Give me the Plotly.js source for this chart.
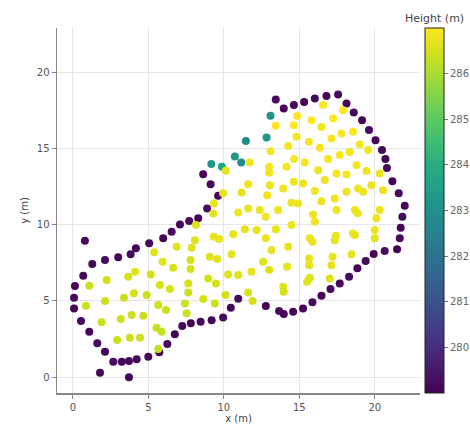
<!DOCTYPE html>
<html>
<head>
<meta charset="utf-8">
<script src="https://cdn.plot.ly/plotly-3.0.1.min.js"></script>
<style>html,body{margin:0;padding:0;background:#fff;}#chart{width:470px;height:430px;}</style>
</head>
<body>
<div id="chart"></div>
<script>
// Boundary (edge) survey points
const edgeX = [0.79,1.28,2.12,3.00,3.82,4.17,5.05,5.98,6.54,7.09,7.70,8.30,0.68,0.13,0.07,0.07,0.53,1.08,1.61,2.12,2.67,3.23,3.71,4.22,4.99,5.72,6.25,6.75,7.24,7.81,8.46,9.19,9.95,10.46,10.95,1.79,3.71,12.78,13.66,13.97,14.59,15.25,15.87,16.47,17.07,17.68,18.30,18.85,19.40,19.93,20.66,21.48,21.66,21.72,21.83,21.99,21.59,21.17,20.81,20.71,20.48,20.05,19.62,19.16,18.61,18.13,17.57,16.80,16.03,15.32,14.64,13.97,13.44,8.63,9.12,9.62,8.89];
const edgeY = [8.94,7.41,7.67,7.85,8.05,8.44,8.77,9.10,9.53,10.01,10.23,10.41,6.64,5.97,5.20,4.50,3.67,2.97,2.21,1.66,1.00,1.00,1.05,1.16,1.33,1.62,2.16,2.80,3.34,3.52,3.63,3.72,3.91,4.54,5.14,0.28,-0.02,4.66,4.33,4.13,4.28,4.50,4.90,5.33,5.77,6.14,6.58,7.13,7.61,8.07,8.26,8.39,9.10,9.79,10.51,11.23,12.05,12.85,13.72,14.30,14.89,15.54,16.20,16.85,17.36,17.95,18.54,18.43,18.28,18.05,17.84,17.62,18.21,13.31,12.64,11.89,11.06];
const edgeH = [279.2,279.1,279.2,279.1,279.2,279.1,279.2,279.1,279.2,279.1,279.2,279.1,279.2,279.1,279.2,279.1,279.2,279.1,279.2,279.1,279.2,279.1,279.2,279.1,279.2,279.1,279.2,279.1,279.2,279.1,279.2,279.1,279.2,279.1,279.2,279.1,279.2,279.1,279.2,279.1,279.2,279.1,279.2,279.1,279.2,279.1,279.2,279.1,279.2,279.1,279.2,279.1,279.2,279.1,279.2,279.1,279.2,279.1,279.2,279.1,279.2,279.1,279.2,279.1,279.2,279.1,279.2,279.1,279.2,279.1,279.2,279.1,279.2,279.1,279.2,279.1,279.2];

// Mid-slope points (teal)
const slopeX = [13.09,12.83,11.46,10.73,11.15,9.17,9.87];
const slopeY = [17.15,15.72,15.48,14.47,14.07,13.97,13.79];
const slopeH = [283.0,283.3,282.9,283.3,282.8,283.2,283.7];

// Interior (top surface) points
const topX = [1.08,2.23,3.66,4.11,5.15,5.38,5.94,6.64,6.87,7.86,8.08,7.79,7.79,9.34,9.69,10.62,8.15,9.07,9.56,10.51,8.96,9.47,10.28,10.95,7.64,7.64,8.63,9.40,10.11,7.42,7.53,5.76,6.42,4.88,4.04,3.38,2.12,0.86,5.65,6.16,4.66,3.89,3.16,1.90,5.54,5.87,4.44,3.77,2.93,5.65,11.83,11.61,11.90,11.39,12.17,12.78,13.44,13.16,12.60,13.00,14.26,14.48,14.19,13.93,13.97,15.70,15.87,15.65,15.65,15.52,15.70,17.35,17.20,17.13,17.02,17.42,18.56,18.68,18.46,20.00,20.00,20.11,16.03,12.78,13.44,14.85,15.81,16.47,17.24,16.58,17.90,14.64,14.81,15.63,14.26,13.09,11.72,13.00,13.00,14.66,14.15,15.36,16.36,17.13,17.79,18.56,19.01,18.34,17.68,16.91,16.25,17.46,18.13,18.79,19.56,19.45,20.33,19.78,20.55,18.89,19.23,18.13,17.35,16.69,16.03,16.47,15.25,14.64,13.93,14.48,14.92,13.05,12.87,12.38,13.60,11.61,11.17,11.61,10.95,9.95,10.13,15.91,17.46,18.68,18.87,20.33,9.34,9.29];
const topY = [5.99,6.36,6.58,6.90,6.73,8.18,7.56,7.17,8.54,8.48,8.98,7.67,7.08,9.20,9.05,9.36,9.97,7.89,7.74,8.05,6.47,6.14,6.73,6.69,6.14,5.55,5.11,4.83,5.38,4.83,4.18,6.03,5.77,5.38,5.49,5.20,4.98,4.68,4.72,4.39,4.02,4.07,3.80,3.59,3.23,2.97,2.58,2.58,2.43,1.84,6.90,5.55,4.98,9.70,9.64,9.10,9.70,8.33,7.56,7.02,8.54,9.97,7.23,5.92,5.59,9.10,8.87,7.78,7.34,6.25,6.51,8.98,7.89,7.34,6.47,9.27,9.42,9.31,8.05,9.64,9.10,10.41,10.18,10.51,16.48,17.13,16.85,16.41,16.96,17.84,17.51,16.52,15.76,15.43,15.15,14.82,14.08,13.79,13.40,14.30,13.79,14.08,15.04,15.65,15.98,16.09,15.26,14.77,14.56,14.30,13.57,13.36,13.29,13.90,14.89,13.51,13.36,12.59,12.26,12.37,12.15,12.15,11.72,12.92,12.20,11.54,12.70,12.81,12.37,11.43,11.39,12.59,11.93,10.95,10.95,12.64,12.11,11.06,10.80,12.05,13.53,10.67,10.95,10.95,10.75,10.95,11.39,10.73];
const topH = [286.4,286.5,286.5,286.6,286.5,286.6,286.6,286.5,286.6,286.6,286.6,286.5,286.5,286.7,286.7,286.7,286.6,286.6,286.6,286.7,286.5,286.5,286.6,286.6,286.5,286.4,286.5,286.4,286.5,286.4,286.4,286.5,286.5,286.4,286.5,286.4,286.4,286.4,286.4,286.4,286.4,286.4,286.4,286.4,286.3,286.3,286.4,286.4,286.4,286.3,286.7,286.5,286.5,286.7,286.7,286.7,286.7,286.7,286.6,286.6,286.7,286.8,286.7,286.6,286.5,286.8,286.7,286.7,286.7,286.6,286.6,286.7,286.7,286.7,286.6,286.8,286.8,286.7,286.7,286.8,286.7,286.8,286.8,286.8,287.0,287.0,287.0,286.9,287.0,287.0,287.0,287.0,286.9,286.9,286.9,286.9,286.8,286.9,286.9,286.9,286.9,286.9,286.9,286.9,287.0,287.0,286.9,286.9,286.9,286.9,286.8,286.9,286.9,286.9,286.9,286.8,286.8,286.8,286.8,286.8,286.8,286.8,286.8,286.8,286.8,286.8,286.8,286.8,286.8,286.8,286.8,286.8,286.8,286.8,286.8,286.8,286.7,286.7,286.8,286.7,286.7,286.8,286.8,286.8,286.8,286.8,286.7,286.7];

const xTicks = [0,5,10,15,20];
const yTicks = [0,5,10,15,20];
const cTicks = [280,281,282,283,284,285,286];
const cbarTitle = 'Height (m)';

const xs = edgeX.concat(slopeX, topX);
const ys = edgeY.concat(slopeY, topY);
const hs = edgeH.concat(slopeH, topH);

const gray = '#555';
const trace = {
  type: 'scatter', mode: 'markers',
  x: xs, y: ys,
  marker: {
    size: 8, color: hs, colorscale: 'Viridis', cmin: 279, cmax: 287,
    line: {width: 0},
    colorbar: {
      x: 1, xanchor: 'left', xpad: 5, y: 0.5, yanchor: 'middle', len: 1, lenmode: 'fraction', ypad: 0,
      thickness: 19, outlinewidth: 1, outlinecolor: '#222',
      tickvals: cTicks, ticks: 'outside', ticklen: 4, tickcolor: '#777',
      tickfont: {family: 'DejaVu Sans', size: 10, color: '#666'}
    }
  },
  hoverinfo: 'x+y'
};

const axisCommon = {
  showgrid: true, gridcolor: '#e6e6e6', gridwidth: 1,
  zeroline: false, showline: true, linecolor: '#888', linewidth: 1.5,
  ticks: 'outside', ticklen: 4, tickcolor: '#888', tickwidth: 1,
  tickfont: {family: 'DejaVu Sans', size: 10, color: gray}, mirror: false
};

const layout = {
  width: 470, height: 430,
  margin: {l: 57, r: 50, t: 28, b: 37, autoexpand: false},
  paper_bgcolor: '#fff', plot_bgcolor: '#fff',
  showlegend: false,
  font: {family: 'DejaVu Sans', color: gray},
  xaxis: Object.assign({}, axisCommon, {range: [-1.06, 23.0], tickvals: xTicks,
    title: {text: 'x (m)', standoff: 2, font: {family: 'DejaVu Sans', size: 10, color: '#444'}}}),
  yaxis: Object.assign({}, axisCommon, {range: [-1.05, 22.9], tickvals: yTicks,
    title: {text: 'y (m)', standoff: 6, font: {family: 'DejaVu Sans', size: 10, color: '#444'}}}),
  annotations: [{
    text: cbarTitle, xref: 'paper', yref: 'paper', x: 1.04, y: 1.026,
    xanchor: 'center', yanchor: 'middle', showarrow: false,
    font: {family: 'DejaVu Sans', size: 11, color: '#444'}
  }]
};

Plotly.newPlot('chart', [trace], layout, {displayModeBar: false, staticPlot: true});
</script>
</body>
</html>
